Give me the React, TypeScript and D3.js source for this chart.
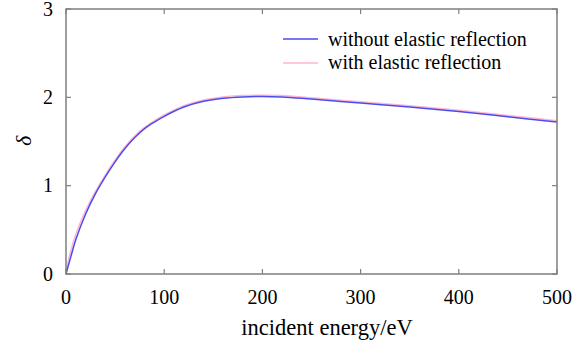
import React from "react";
import * as d3 from "d3";

const energy = [0, 5, 10, 20, 30, 40, 50, 60, 70, 80, 90, 100, 120, 140, 160, 180, 200, 220, 250, 300, 350, 400, 450, 500];
const withoutElastic = [0, 0.2, 0.39, 0.68, 0.91, 1.1, 1.27, 1.42, 1.545, 1.645, 1.72, 1.785, 1.89, 1.955, 1.99, 2.005, 2.01, 2.005, 1.98, 1.935, 1.89, 1.84, 1.78, 1.72];
const withElastic = [0.02, 0.27, 0.45, 0.72, 0.935, 1.12, 1.29, 1.44, 1.562, 1.66, 1.735, 1.8, 1.905, 1.97, 2.005, 2.02, 2.025, 2.02, 1.995, 1.95, 1.905, 1.855, 1.795, 1.735];
const xTicks = [0, 100, 200, 300, 400, 500];
const yTicks = [0, 1, 2, 3];
const seriesNames = ["without elastic reflection", "with elastic reflection"];

const W = 581, H = 341;
const L = 66, R = 557, T = 9, B = 274;
const FONT = "Liberation Serif, Tinos, Times New Roman, FreeSerif, Noto Serif, serif";

export default function App() {
  const x = d3.scaleLinear().domain([0, 500]).range([L, R]);
  const y = d3.scaleLinear().domain([0, 3]).range([B, T]);
  const line = d3.line<number>().x((_, i) => x(energy[i])).y((d) => y(d)).curve(d3.curveCatmullRom.alpha(0.5));
  const axisColor = "#7f7f7f";
  const tickLen = 5;
  const txt = { fontFamily: FONT, fontSize: "20px" };

  return (
    <div style={{ position: "fixed", left: 0, top: 0 }}>
      <svg width={W} height={H} style={{ display: "block", background: "#fff", fontFamily: FONT }}>
        <path d={line(withElastic) || ""} fill="none" stroke="#ffb6d2" strokeWidth={1.5} />
        <path d={line(withoutElastic) || ""} fill="none" stroke="#4b4bf0" strokeWidth={1.5} />
        {xTicks.map((t) => (
          <g key={"x" + t}>
            <line x1={x(t)} x2={x(t)} y1={B} y2={B - tickLen} stroke={axisColor} strokeWidth={1.2} />
            <line x1={x(t)} x2={x(t)} y1={T} y2={T + tickLen} stroke={axisColor} strokeWidth={1.2} />
            <text x={x(t)} y={304} textAnchor="middle" style={txt}>{t}</text>
          </g>
        ))}
        {yTicks.map((t) => (
          <g key={"y" + t}>
            <line x1={L} x2={L + tickLen} y1={y(t)} y2={y(t)} stroke={axisColor} strokeWidth={1.2} />
            <line x1={R} x2={R - tickLen} y1={y(t)} y2={y(t)} stroke={axisColor} strokeWidth={1.2} />
            <text x={53} y={y(t) + 6.5} textAnchor="end" style={txt}>{t}</text>
          </g>
        ))}
        <rect x={L} y={T} width={R - L} height={B - T} fill="none" stroke={axisColor} strokeWidth={1.5} />
        <text x={327} y={335} textAnchor="middle" style={{ ...txt, fontSize: "22.5px" }}>incident energy/eV</text>
        <text transform={`translate(31,141) rotate(-90)`} textAnchor="middle" style={{ ...txt, fontSize: "22px", fontStyle: "italic" }}>δ</text>
        <line x1={283} x2={318} y1={39} y2={39} stroke="#4b4bf0" strokeWidth={1.5} />
        <text x={328} y={46} style={txt}>{seriesNames[0]}</text>
        <line x1={283} x2={318} y1={63} y2={63} stroke="#ffb6d2" strokeWidth={1.5} />
        <text x={328} y={69} style={txt}>{seriesNames[1]}</text>
      </svg>
    </div>
  );
}
